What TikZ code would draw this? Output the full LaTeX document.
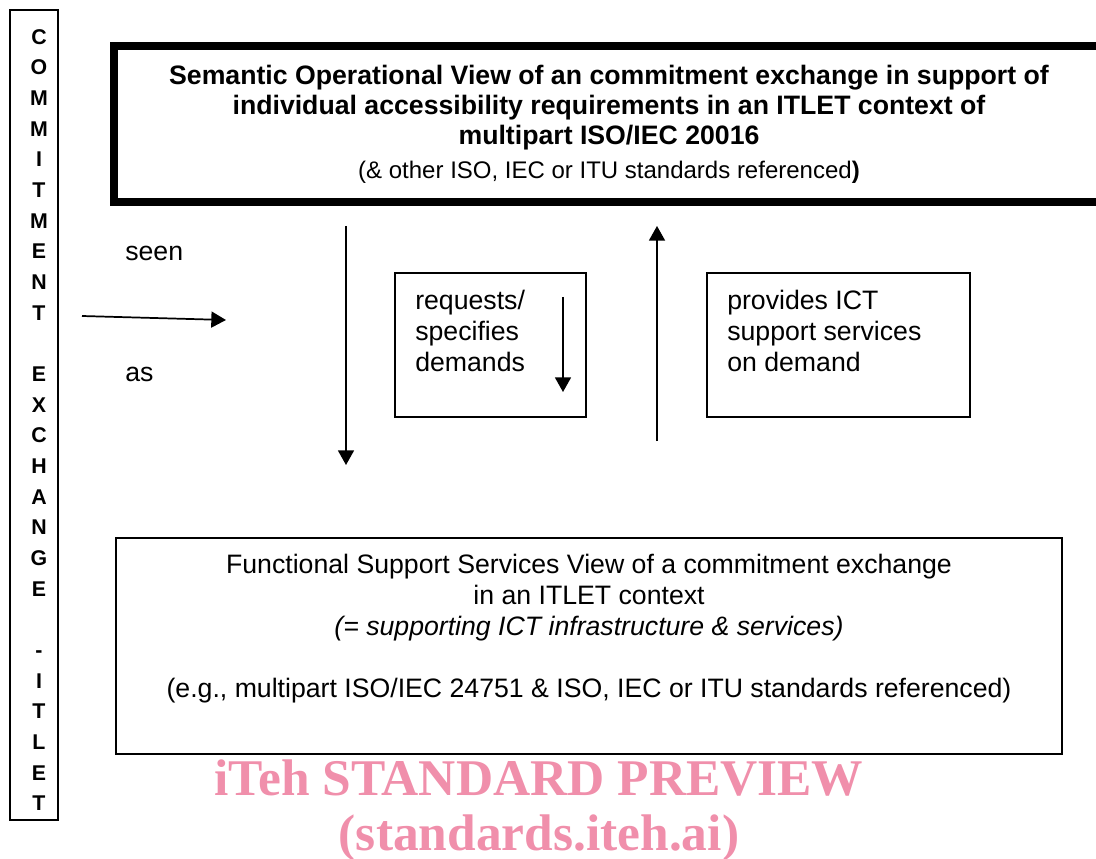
\documentclass[tikz,border=0pt]{standalone}
\usepackage{fontspec}
\setmainfont{Liberation Sans}
\newfontfamily\wmfont{Liberation Serif}
\usetikzlibrary{positioning}
\usetikzlibrary{arrows.meta}
\definecolor{itehpink}{RGB}{240,143,171}

\begin{document}
\begin{tikzpicture}[x={(0.75pt,0pt)},y={(0pt,-0.75pt)},
  every node/.style={inner sep=0pt,font=\fontsize{20}{23.25}\selectfont},
  frame/.style={draw,line width=1.1pt},
  flow/.style={-{Triangle[length=11pt,width=12pt]},line width=1.3pt},
  watermark/.style={text=itehpink,font=\wmfont\bfseries\fontsize{38.6}{42}\selectfont}]
  % page size
  \useasboundingbox (0,0) rectangle (1096,859);

  % vertical side label
  \node[frame,minimum width=36pt,minimum height=607.5pt] (sidebar) at (34,415) {};
  \node[align=center,font=\fontsize{16}{23}\selectfont\bfseries] (sideletters) at (39,420)
    {C\\O\\M\\M\\I\\T\\M\\E\\N\\T\\~\\E\\X\\C\\H\\A\\N\\G\\E\\~\\-\\I\\T\\L\\E\\T};

  % semantic operational view
  \node[draw,line width=6pt,minimum width=742.5pt,minimum height=117pt,align=center,
        font=\fontsize{20}{22.5}\selectfont] (semantic) at (609,124)
    {\textbf{Semantic Operational View of an commitment exchange in support of}\\
     \textbf{individual accessibility requirements in an ITLET context of}\\
     \textbf{multipart ISO/IEC 20016}\\[3pt]
     {\fontsize{18}{22.5}\selectfont(\& other ISO, IEC or ITU standards referenced\textbf{)}}};

  % seen as
  \coordinate (seenfrom) at (82,316);
  \coordinate (seento) at (226,320);
  \draw[flow] (seenfrom) -- (seento);
  \node[anchor=base west] (seen) at (125,261) {seen};
  \node[anchor=base west] (as) at (125,381) {as};

  % down and up arrows
  \coordinate (downtop) at (346,226);
  \coordinate (downbot) at (346,465);
  \draw[flow] (downtop) -- (downbot);
  \coordinate (upbot) at (657,441);
  \coordinate (uptop) at (657,226);
  \draw[flow] (upbot) -- (uptop);

  % requests box
  \node[frame,minimum width=143.25pt,minimum height=108pt] (requests) at (490.5,345) {};
  \node[anchor=north west,align=left] (requeststext) at (415,290) {requests/\\specifies\\demands};
  \coordinate (reqtop) at (563,297);
  \coordinate (reqbot) at (563,392);
  \draw[flow] (reqtop) -- (reqbot);

  % provides box
  \node[frame,minimum width=197.25pt,minimum height=108pt] (provides) at (838.5,345) {};
  \node[anchor=north west,align=left] (providestext) at (727,290) {provides ICT\\support services\\on demand};

  % functional support services view
  \node[frame,minimum width=709.5pt,minimum height=162pt] (functional) at (589,646) {};
  \node[align=center] (functext) at (589,629)
    {Functional Support Services View of a commitment exchange\\
     in an ITLET context\\
     \textit{(= supporting ICT infrastructure \& services)}\\
     ~\\
     (e.g., multipart ISO/IEC 24751 \& ISO, IEC or ITU standards referenced)};

  % watermark
  \node[watermark,anchor=base] (wmtop) at (539,795) {iTeh STANDARD PREVIEW};
  \node[watermark,anchor=base] (wmbot) at (539,850) {(standards.iteh.ai)};
\end{tikzpicture}
\end{document}
